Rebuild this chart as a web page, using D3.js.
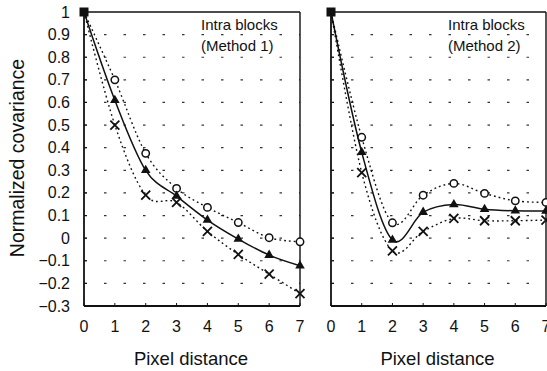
<!DOCTYPE html>
<html>
<head>
<meta charset="utf-8">
<script src="https://cdn.jsdelivr.net/npm/d3@7/dist/d3.min.js"></script>
<style>
  html, body { margin: 0; padding: 0; background: #fff; }
  svg { display: block; font-family: "Liberation Sans", Arial, sans-serif; }
</style>
</head>
<body>
<svg id="chart" width="547" height="371"></svg>
<script>
// Pixel distances along the x axis
const distances = [0, 1, 2, 3, 4, 5, 6, 7];
const yTicks = [1, 0.9, 0.8, 0.7, 0.6, 0.5, 0.4, 0.3, 0.2, 0.1, 0, -0.1, -0.2, -0.3];
const yTickLabels = ["1", "0.9", "0.8", "0.7", "0.6", "0.5", "0.4", "0.3", "0.2", "0.1", "0", "\u22120.1", "\u22120.2", "\u22120.3"];
const xTickLabels = ["0", "1", "2", "3", "4", "5", "6", "7"];

// Method 1 — normalized covariance per pixel distance
const m1Circle   = [1, 0.70, 0.375, 0.22, 0.136, 0.069, 0.002, -0.016];
const m1Triangle = [1, 0.61, 0.30, 0.186, 0.08, -0.004, -0.075, -0.122];
const m1Cross    = [1, 0.50, 0.19, 0.158, 0.03, -0.072, -0.159, -0.245];

// Method 2 — normalized covariance per pixel distance
const m2Circle   = [1, 0.446, 0.068, 0.19, 0.242, 0.198, 0.165, 0.158];
const m2Triangle = [1, 0.38, -0.008, 0.115, 0.149, 0.128, 0.121, 0.12];
const m2Cross    = [1, 0.29, -0.056, 0.03, 0.087, 0.077, 0.077, 0.08];

const panelTitles = [["Intra blocks", "(Method 1)"], ["Intra blocks", "(Method 2)"]];

const svg = d3.select("#chart");
const y = d3.scaleLinear().domain([-0.3, 1]).range([306, 12]);

const panels = [
  { x0: 84, x1: 300, title: panelTitles[0], circle: m1Circle, tri: m1Triangle, cross: m1Cross, yLabels: true },
  { x0: 331, x1: 546, title: panelTitles[1], circle: m2Circle, tri: m2Triangle, cross: m2Cross, yLabels: false }
];

const curve = d3.curveCatmullRom.alpha(0);

panels.forEach(p => {
  const x = d3.scaleLinear().domain([0, 7]).range([p.x0, p.x1]);
  const g = svg.append("g");

  // horizontal dashed grid
  yTicks.filter(v => v > -0.3 && v < 1).forEach(v => {
    g.append("line")
      .attr("x1", p.x0).attr("x2", p.x1)
      .attr("y1", y(v)).attr("y2", y(v))
      .attr("stroke", "#333").attr("stroke-width", 1.2)
      .attr("stroke-dasharray", "2.5,17")
      .attr("stroke-dashoffset", -20);
  });

  // frame
  g.append("line").attr("x1", p.x0).attr("x2", p.x1).attr("y1", y(1)).attr("y2", y(1))
    .attr("stroke", "#111").attr("stroke-width", 1.6);
  g.append("line").attr("x1", p.x0).attr("x2", p.x1).attr("y1", y(-0.3)).attr("y2", y(-0.3))
    .attr("stroke", "#111").attr("stroke-width", 1.8);
  g.append("line").attr("x1", p.x0).attr("x2", p.x0).attr("y1", y(1)).attr("y2", y(-0.3))
    .attr("stroke", "#111").attr("stroke-width", 1.8);
  g.append("line").attr("x1", p.x1).attr("x2", p.x1).attr("y1", y(1)).attr("y2", y(-0.3))
    .attr("stroke", "#111").attr("stroke-width", 1.4);

  // inner ticks on the left axis
  yTicks.forEach(v => {
    g.append("line").attr("x1", p.x0).attr("x2", p.x0 + 3).attr("y1", y(v)).attr("y2", y(v))
      .attr("stroke", "#111").attr("stroke-width", 1);
  });
  // inner ticks on the bottom axis
  distances.forEach(d => {
    g.append("line").attr("x1", x(d)).attr("x2", x(d)).attr("y1", y(-0.3)).attr("y2", y(-0.3) - 3)
      .attr("stroke", "#111").attr("stroke-width", 1);
  });

  // y tick labels
  if (p.yLabels) {
    yTicks.forEach((v, i) => {
      g.append("text")
        .attr("x", 70).attr("y", y(v) + 5.5)
        .attr("text-anchor", "end")
        .attr("font-size", 16).attr("fill", "#111")
        .text(yTickLabels[i]);
    });
  }

  // x tick labels
  distances.forEach((d, i) => {
    g.append("text")
      .attr("x", x(d)).attr("y", 332)
      .attr("text-anchor", "middle")
      .attr("font-size", 16).attr("fill", "#111")
      .text(xTickLabels[i]);
  });

  // x axis title
  g.append("text")
    .attr("x", (p.x0 + p.x1) / 2 - 1).attr("y", 365)
    .attr("text-anchor", "middle")
    .attr("font-size", 18.5).attr("fill", "#111")
    .text("Pixel distance");

  // panel title
  g.append("text").attr("x", p.x0 + 117).attr("y", 30)
    .attr("font-size", 15).attr("fill", "#111").text(p.title[0]);
  g.append("text").attr("x", p.x0 + 117).attr("y", 51)
    .attr("font-size", 15).attr("fill", "#111").text(p.title[1]);

  const line = d3.line().x((v, i) => x(distances[i])).y(v => y(v)).curve(curve);

  // series curves
  g.append("path").attr("d", line(p.circle)).attr("fill", "none")
    .attr("stroke", "#111").attr("stroke-width", 1.4).attr("stroke-dasharray", "1.8,3");
  g.append("path").attr("d", line(p.cross)).attr("fill", "none")
    .attr("stroke", "#111").attr("stroke-width", 1.4).attr("stroke-dasharray", "1.8,3");
  g.append("path").attr("d", line(p.tri)).attr("fill", "none")
    .attr("stroke", "#111").attr("stroke-width", 1.5);

  // markers (distance 0 shares a filled square)
  p.circle.forEach((v, i) => {
    if (i === 0) return;
    g.append("circle").attr("cx", x(distances[i])).attr("cy", y(v)).attr("r", 3.7)
      .attr("fill", "#fff").attr("stroke", "#111").attr("stroke-width", 1.5);
  });
  p.tri.forEach((v, i) => {
    if (i === 0) return;
    g.append("path")
      .attr("transform", `translate(${x(distances[i])},${y(v)})`)
      .attr("d", d3.symbol(d3.symbolTriangle, 40)())
      .attr("fill", "#111");
  });
  p.cross.forEach((v, i) => {
    if (i === 0) return;
    const cx = x(distances[i]), cy = y(v), s = 4.5;
    g.append("path")
      .attr("d", `M${cx - s},${cy - s}L${cx + s},${cy + s}M${cx - s},${cy + s}L${cx + s},${cy - s}`)
      .attr("stroke", "#111").attr("stroke-width", 1.8).attr("fill", "none");
  });
  g.append("rect").attr("x", x(0) - 4.5).attr("y", y(1) - 4.5)
    .attr("width", 9).attr("height", 9).attr("fill", "#111");
});

// y axis title
svg.append("text")
  .attr("transform", "translate(24,158) rotate(-90)")
  .attr("text-anchor", "middle")
  .attr("font-size", 19.5).attr("fill", "#111")
  .text("Normalized covariance");
</script>
</body>
</html>
